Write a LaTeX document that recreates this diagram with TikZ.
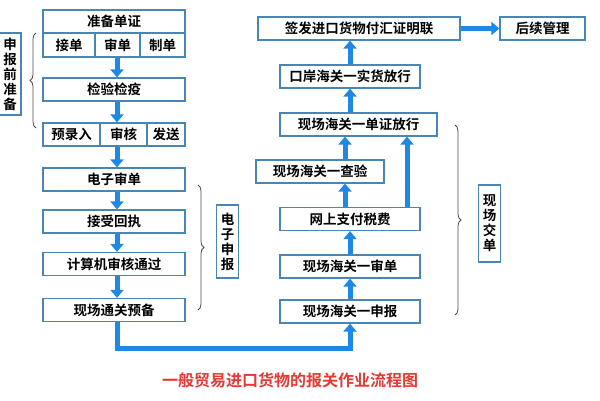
\documentclass[tikz,border=0pt]{standalone}
\usepackage{fontspec}
\setmainfont{Noto Sans CJK SC}[BoldFont={Noto Sans CJK SC Bold}]
\usetikzlibrary{arrows.meta,positioning,decorations.pathreplacing}
\definecolor{boxblue}{HTML}{4A86B4}
\definecolor{flowblue}{HTML}{1E88E5}
\definecolor{titlered}{HTML}{E53935}
\tikzset{
  box/.style={draw=boxblue, line width=1.2pt, fill=white, inner sep=0pt, minimum height=23pt, font=\fontsize{13.5}{15}\selectfont\bfseries},
  vbox/.style={box, minimum width=22pt, align=center, font=\fontsize{13.5}{15}\selectfont\bfseries},
  flow/.style={flowblue, line width=5pt, -{Triangle[width=13pt,length=8pt]}},
  brace/.style={draw=black!70, thick, decorate, decoration={brace, amplitude=6pt}}
}
\begin{document}
\begin{tikzpicture}[x=1pt,y=-1pt]
  \useasboundingbox (0,0) rectangle (600,400);
  %% left column
  \node[box, minimum width=142pt] (prep) at (114,21.5) {准备单证};
  \node[box, minimum width=52pt, minimum height=24pt] (jd) at (69,45) {接单};
  \node[box, minimum width=45pt, minimum height=24pt] (sd) at (117.5,45) {审单};
  \node[box, minimum width=45pt, minimum height=24pt] (zd) at (162.5,45) {制单};
  \node[box, minimum width=142pt] (jyjy) at (114,89.5) {检验检疫};
  \node[box, minimum width=57pt] (ylr) at (71.5,134.5) {预录入};
  \node[box, minimum width=47pt] (sh) at (123.5,134.5) {审核};
  \node[box, minimum width=38pt] (fs) at (166,134.5) {发送};
  \node[box, minimum width=142pt] (dzsd) at (114,179.5) {电子审单};
  \node[box, minimum width=142pt] (jshz) at (114,221.5) {接受回执};
  \node[box, minimum width=142pt] (jsj) at (114,264) {计算机审核通过};
  \node[box, minimum width=142pt] (xtyb) at (114,310) {现场通关预备};
  %% right column
  \node[box, minimum width=140pt] (xsb) at (350,311.5) {现场海关一申报};
  \node[box, minimum width=140pt] (xsd) at (350,266.5) {现场海关一审单};
  \node[box, minimum width=140pt] (wszf) at (350,219) {网上支付税费};
  \node[box, minimum width=128pt] (xcy) at (320,171.5) {现场海关一查验};
  \node[box, minimum width=157pt] (dzfx) at (358.5,124.5) {现场海关一单证放行};
  \node[box, minimum width=140pt] (sfx) at (350,76.5) {口岸海关一实货放行};
  \node[box, minimum width=202pt] (qf) at (359,28.5) {签发进口货物付汇证明联};
  \node[box, minimum width=85pt] (hxgl) at (542.5,28.5) {后续管理};
  %% side labels
  \node[vbox, minimum height=82pt] (sbq) at (10,74) {申\\报\\前\\准\\备};
  \node[vbox, minimum height=73pt] (dzsb) at (227.5,241.5) {电\\子\\申\\报};
  \node[vbox, minimum height=77pt] (xcjd) at (489.5,223.5) {现\\场\\交\\单};
  \draw[brace] (36,128) -- (36,33);
  \draw[brace] (198,185) -- (198,310);
  \draw[brace] (455,125) -- (455,315);
  %% flow arrows
  \draw[flow] (sd.south -| 117,0) -- (jyjy.north -| 117,0);
  \draw[flow] (jyjy.south -| 117,0) -- (sh.north -| 117,0);
  \draw[flow] (sh.south -| 117,0) -- (dzsd.north -| 117,0);
  \draw[flow] (dzsd.south -| 117,0) -- (jshz.north -| 117,0);
  \draw[flow] (jshz.south -| 117,0) -- (jsj.north -| 117,0);
  \draw[flow] (jsj.south -| 117,0) -- (xtyb.north -| 117,0);
  \draw[flow] (xtyb.south -| 117,0) -- ++(0,26) -| (xsb.south);
  \draw[flow] (xsb) -- (xsd);
  \draw[flow] (xsd) -- (wszf);
  \draw[flow] (wszf.north -| 345,0) -- (xcy.south -| 345,0);
  \draw[flow] (wszf.north -| 407,0) -- (dzfx.south -| 407,0);
  \draw[flow] (xcy.north -| 345,0) -- (dzfx.south -| 345,0);
  \draw[flow] (dzfx.north -| sfx) -- (sfx.south);
  \draw[flow] (sfx.north) -- (qf.south -| sfx);
  \draw[flow] (qf) -- (hxgl);
  %% caption
  \node[text=titlered, font=\fontsize{16}{18}\selectfont\bfseries] (cap) at (290,380) {一般贸易进口货物的报关作业流程图};
\end{tikzpicture}
\end{document}
